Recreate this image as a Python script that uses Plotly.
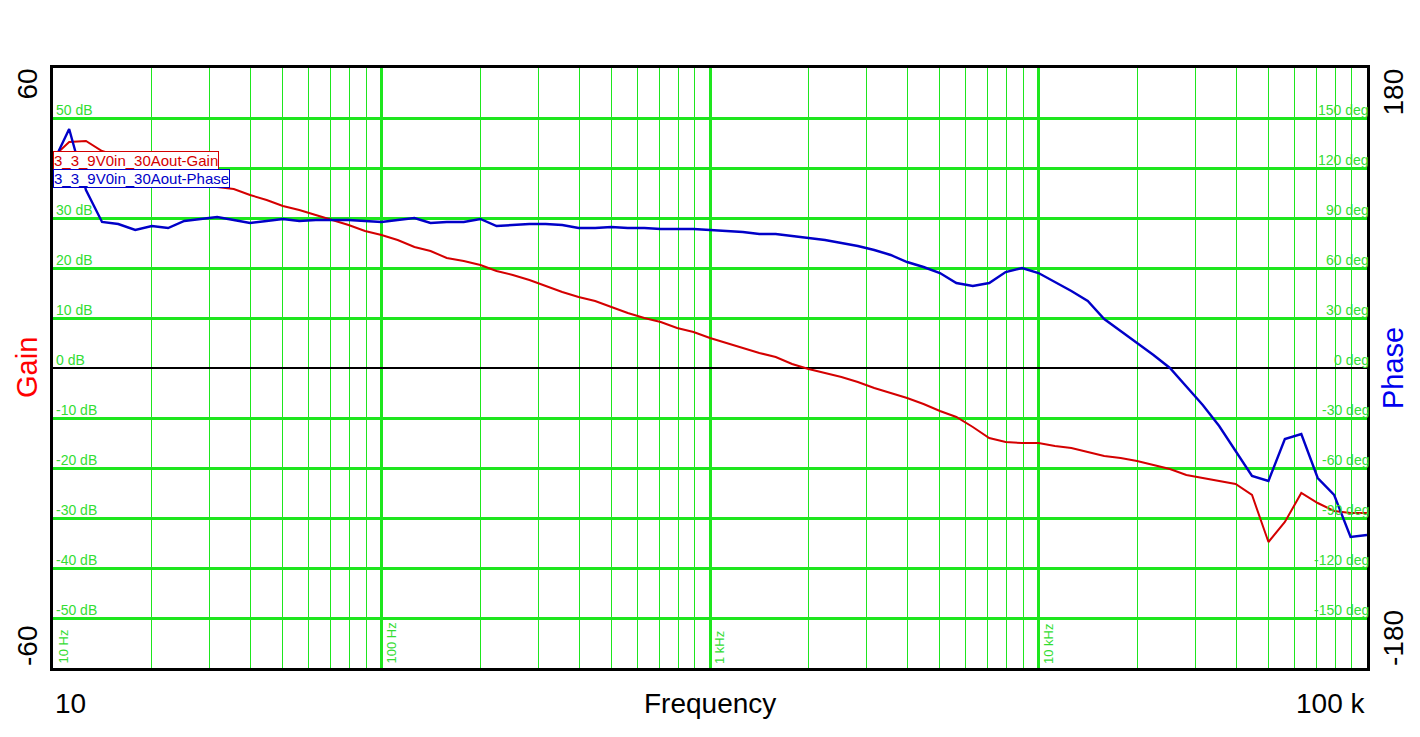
import math
import plotly.graph_objects as go

# ---------------- data ----------------
freq_hz = [10, 11.2, 12.6, 14.1, 15.8, 17.8, 20.0, 22.4, 25.1, 28.2, 31.6, 35.5, 39.8, 44.7, 50.1, 56.2, 63.1, 70.8, 79.4, 89.1,
           100, 112, 126, 141, 158, 178, 200, 224, 251, 282, 316, 355, 398, 447, 501, 562, 631, 708, 794, 891,
           1000, 1122, 1259, 1413, 1585, 1778, 1995, 2239, 2512, 2818, 3162, 3548, 3981, 4467, 5012, 5623, 6310, 7079, 7943, 8913,
           10000, 11220, 12589, 14125, 15849, 17783, 19953, 22387, 25119, 28184, 31623, 35481, 39811, 44668, 50119, 56234, 63096,
           70795, 79433, 89125, 100000]

gain_db = [42.2, 45.2, 45.4, 43.4, 42.4, 41.6, 40.6, 39.6, 38.6, 37.4, 36.2, 35.8, 34.6, 33.6, 32.4, 31.6, 30.6, 29.6, 28.6, 27.4,
           26.6, 25.6, 24.2, 23.4, 22.0, 21.4, 20.6, 19.4, 18.6, 17.6, 16.4, 15.2, 14.2, 13.4, 12.2, 11.0, 10.0, 9.2, 8.0, 7.2,
           6.0, 5.0, 4.0, 3.0, 2.2, 0.8, -0.2, -1.0, -1.8, -2.8, -4.0, -5.0, -6.0, -7.2, -8.6, -9.8, -11.8, -14.0, -14.8, -15.0,
           -15.0, -15.6, -16.0, -16.8, -17.6, -18.0, -18.6, -19.4, -20.2, -21.4, -22.0, -22.6, -23.2, -25.4, -34.8, -30.8, -25.0,
           -27.0, -28.6, -29.0, -29.0]

phase_deg = [123.0, 143.4, 106.8, 87.6, 86.4, 82.8, 85.2, 84.0, 88.2, 89.4, 90.6, 88.8, 87.0, 88.2, 89.4, 88.2, 88.8, 88.8, 88.8, 88.2,
             87.6, 88.8, 90.0, 87.0, 87.6, 87.6, 89.4, 85.2, 85.8, 86.4, 86.4, 85.8, 84.0, 84.0, 84.6, 84.0, 84.0, 83.4, 83.4, 83.4,
             82.8, 82.2, 81.6, 80.4, 80.4, 79.2, 78.0, 76.8, 75.0, 73.2, 70.8, 67.8, 63.6, 60.6, 57.0, 51.0, 49.2, 51.0, 57.6, 60.0,
             57.0, 51.6, 46.2, 40.2, 29.4, 22.2, 15.0, 7.8, 0.0, -11.4, -22.2, -34.8, -49.8, -64.8, -67.8, -42.6, -39.6,
             -66.0, -76.2, -101.4, -100.2]

# "40 dB" sits under the legend boxes in the reference, so it is not shown
gain_grid_vals = [50, 30, 20, 10, 0, -10, -20, -30, -40, -50]
gain_grid_text = ["50 dB", "30 dB", "20 dB", "10 dB", "0 dB", "-10 dB", "-20 dB", "-30 dB", "-40 dB", "-50 dB"]
phase_grid_vals = [150, 120, 90, 60, 30, 0, -30, -60, -90, -120, -150]
phase_grid_text = ["150 deg", "120 deg", "90 deg", "60 deg", "30 deg", "0 deg", "-30 deg", "-60 deg", "-90 deg", "-120 deg", "-150 deg"]
decade_vals = [10, 100, 1000, 10000]
decade_text = ["10 Hz", "100 Hz", "1 kHz", "10 kHz"]

series_names = ["3_3_9V0in_30Aout-Gain", "3_3_9V0in_30Aout-Phase"]

# ---------------- styling ----------------
W, H = 1420, 737
ML, MR, MT, MB = 53, 53, 68, 69
PW = W - ML - MR
PH = H - MT - MB
GREEN = "#1ee61e"
LABEL_GREEN = "#33dd33"
RED = "#d40000"
BLUE = "#0000c8"
FONT = "Arial, Liberation Sans, sans-serif"

fig = go.Figure()
fig.add_trace(go.Scatter(x=freq_hz, y=gain_db, mode="lines", name=series_names[0],
                         line=dict(color=RED, width=2), yaxis="y"))
fig.add_trace(go.Scatter(x=freq_hz, y=phase_deg, mode="lines", name=series_names[1],
                         line=dict(color=BLUE, width=2.4), yaxis="y2"))

shapes = []
annotations = []

def char_w(s):
    return 7.8 * len(s) - 2.0

# left (gain) grid labels with white backing
for v, t in zip(gain_grid_vals, gain_grid_text):
    w = char_w(t) + 8
    shapes.append(dict(type="rect", layer="between", xref="paper", yref="y",
                       x0=0, x1=w / PW, y0=v - 0.6, y1=v + 3.3,
                       fillcolor="white", line=dict(width=0)))
    annotations.append(dict(text=t, xref="paper", yref="y", x=0, y=v, xanchor="left", yanchor="bottom",
                            xshift=2, yshift=-1, showarrow=False, borderpad=0,
                            font=dict(family=FONT, size=14, color=LABEL_GREEN)))

# right (phase) grid labels with white backing
for v, t in zip(phase_grid_vals, phase_grid_text):
    w = char_w(t) + 6
    shapes.append(dict(type="rect", layer="between", xref="paper", yref="y2",
                       x0=1 - w / PW, x1=1, y0=v - 1.8, y1=v + 9.9,
                       fillcolor="white", line=dict(width=0)))
    annotations.append(dict(text=t, xref="paper", yref="y2", x=1, y=v, xanchor="right", yanchor="bottom",
                            xshift=3, yshift=-1, showarrow=False, borderpad=0,
                            font=dict(family=FONT, size=14, color=LABEL_GREEN)))

# decade labels (vertical)
for v, t in zip(decade_vals, decade_text):
    annotations.append(dict(text=t, xref="x", yref="y", x=math.log10(v), y=-60, xanchor="left", yanchor="bottom",
                            xshift=1, yshift=3, textangle=-90, showarrow=False, borderpad=0,
                            font=dict(family=FONT, size=13, color=LABEL_GREEN)))

# outer axis labels
big = dict(family=FONT, size=28, color="black")
annotations += [
    dict(text="60", xref="paper", yref="paper", x=0, y=1, xanchor="center", yanchor="top",
         xshift=-26, yshift=1, textangle=-90, showarrow=False, font=big),
    dict(text="-60", xref="paper", yref="paper", x=0, y=0, xanchor="center", yanchor="bottom",
         xshift=-26, yshift=0, textangle=-90, showarrow=False, font=big),
    dict(text="180", xref="paper", yref="paper", x=1, y=1, xanchor="center", yanchor="top",
         xshift=26, yshift=1, textangle=-90, showarrow=False, font=big),
    dict(text="-180", xref="paper", yref="paper", x=1, y=0, xanchor="center", yanchor="bottom",
         xshift=26, yshift=0, textangle=-90, showarrow=False, font=big),
    dict(text="Gain", xref="paper", yref="paper", x=0, y=0.5, xanchor="center", yanchor="middle",
         xshift=-26, textangle=-90, showarrow=False, font=dict(family=FONT, size=29, color="#ff0000")),
    dict(text="Phase", xref="paper", yref="paper", x=1, y=0.5, xanchor="center", yanchor="middle",
         xshift=26, textangle=-90, showarrow=False, font=dict(family=FONT, size=29, color="#0000ee")),
    dict(text="10", xref="paper", yref="paper", x=0, y=0, xanchor="left", yanchor="middle",
         yshift=-35, showarrow=False, font=big),
    dict(text="100 k", xref="paper", yref="paper", x=1, y=0, xanchor="right", yanchor="middle",
         yshift=-35, showarrow=False, font=big),
    dict(text="Frequency", xref="paper", yref="paper", x=0.5, y=0, xanchor="center", yanchor="middle",
         yshift=-35, showarrow=False, font=big),
]

# legend boxes
annotations += [
    dict(text=series_names[0], xref="paper", yref="paper", x=0, y=(H - MB - 160) / PH,
         xanchor="left", yanchor="middle", showarrow=False, bgcolor="white", bordercolor=RED,
         borderwidth=1, borderpad=0, font=dict(family=FONT, size=15, color=RED)),
    dict(text=series_names[1], xref="paper", yref="paper", x=0, y=(H - MB - 178) / PH,
         xanchor="left", yanchor="middle", showarrow=False, bgcolor="white", bordercolor=BLUE,
         borderwidth=1, borderpad=0, font=dict(family=FONT, size=15, color=BLUE)),
]

fig.update_layout(
    width=W, height=H,
    margin=dict(l=ML, r=MR, t=MT, b=MB, pad=0),
    paper_bgcolor="white", plot_bgcolor="white",
    showlegend=False,
    font=dict(family=FONT),
    xaxis=dict(type="log", range=[1, 5], dtick=1, showgrid=True, gridcolor=GREEN, gridwidth=3,
               minor=dict(dtick="D1", showgrid=True, gridcolor=GREEN, gridwidth=1, ticks=""),
               showticklabels=False, ticks="", showline=True, linecolor="black", linewidth=3, mirror=True,
               zeroline=False),
    yaxis=dict(range=[-60, 60], dtick=10, showgrid=True, gridcolor=GREEN, gridwidth=2.5,
               zeroline=True, zerolinecolor="black", zerolinewidth=2,
               showticklabels=False, ticks="", showline=True, linecolor="black", linewidth=3, mirror=True),
    yaxis2=dict(range=[-180, 180], overlaying="y", side="right", showgrid=False, zeroline=False,
                showticklabels=False, ticks="", showline=False),
    shapes=shapes,
    annotations=annotations,
)

fig.write_html("out.html")
